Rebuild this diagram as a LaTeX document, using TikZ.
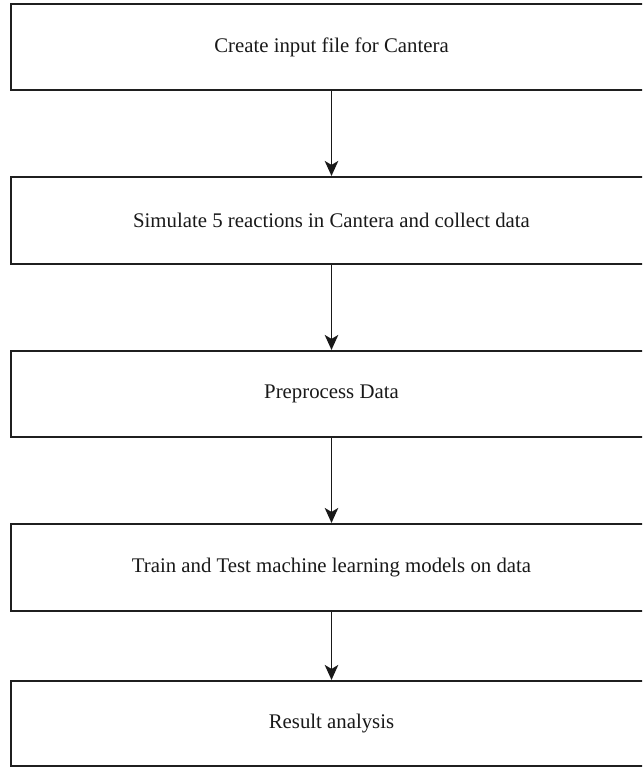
\documentclass[tikz,border=0pt]{standalone}
\usepackage{fontspec}
\setmainfont{Liberation Serif}
\usetikzlibrary{arrows.meta}

\begin{document}
\begin{tikzpicture}[x=1pt,y=-1pt,
  stepbox/.style={draw=black!88, line width=2.1pt, minimum width=641pt,
    inner sep=0pt, font=\fontsize{20.8}{24}\selectfont, text=black!90},
  flow/.style={draw=black!90, line width=1.8pt,
    -{Stealth[length=15pt,width=13.5pt,inset=4pt]}}]
  % page frame
  \useasboundingbox (0,0) rectangle (642,767);
  \clip (0,0) rectangle (642,767);
  \fill[white] (0,0) rectangle (642,767);

  % process steps
  \node[stepbox, minimum height=86pt] (s1) at (331.5,47)    {Create input file for Cantera};
  \node[stepbox, minimum height=87pt] (s2) at (331.5,220.5) {Simulate 5 reactions in Cantera and collect data};
  \node[stepbox, minimum height=86pt] (s3) at (331.5,394)   {Preprocess Data};
  \node[stepbox, minimum height=87pt] (s4) at (331.5,567.5) {Train and Test machine learning models on data};
  \node[stepbox, minimum height=85pt] (s5) at (331.5,723.5) {Result analysis};

  % connectors
  \draw[flow] (s1.south) -- (s2.north);
  \draw[flow] (s2.south) -- (s3.north);
  \draw[flow] (s3.south) -- (s4.north);
  \draw[flow] (s4.south) -- (s5.north);
\end{tikzpicture}
\end{document}
